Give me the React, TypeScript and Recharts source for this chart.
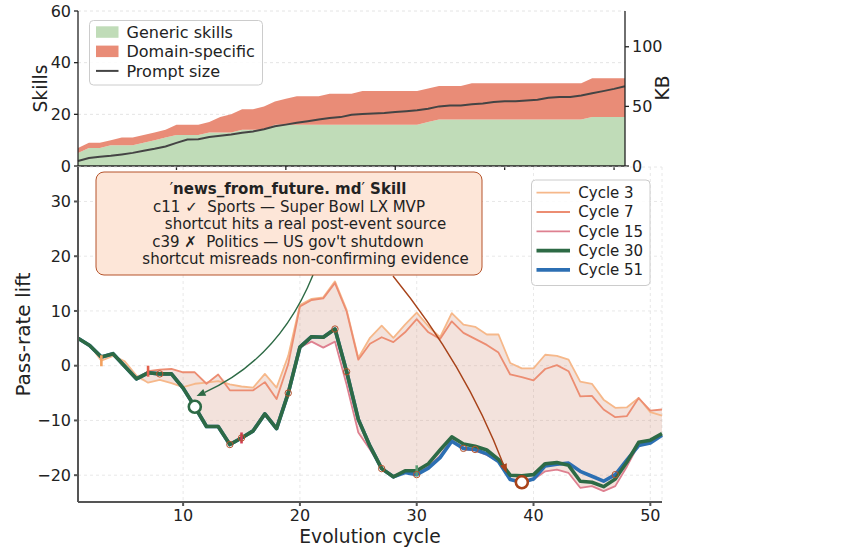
import React from "react";
import {
  ComposedChart,
  Area,
  Line,
  XAxis,
  YAxis,
  CartesianGrid,
  ReferenceDot,
  ReferenceLine,
} from "recharts";

const FONT = "'DejaVu Sans', Verdana, sans-serif";
const INK = "#222222";

// evolution cycles (x axis of both panels)
const cycles = [
  1, 2, 3, 4, 5, 6, 7, 8, 9, 10, 11, 12, 13, 14, 15, 16, 17, 18, 19, 20, 21, 22, 23, 24, 25, 26,
  27, 28, 29, 30, 31, 32, 33, 34, 35, 36, 37, 38, 39, 40, 41, 42, 43, 44, 45, 46, 47, 48, 49, 50, 51,
];

// skill library size and prompt size per cycle
const genericSkills = [
  5, 7, 7, 8, 8, 8, 9, 10, 11, 12, 12, 12, 13, 13, 13, 14, 14, 14, 16, 16, 16, 16, 16, 16, 16, 16,
  16, 16, 16, 16, 16, 16, 17, 18, 18, 18, 18, 18, 18, 18, 18, 18, 18, 18, 18, 18, 18, 19, 19, 19, 19,
];
const domainSkills = [
  2, 2, 2, 2, 3, 3, 3, 3, 3, 4, 4, 4, 4, 6, 7, 8, 8, 9, 9, 10, 11, 11, 11, 12, 12, 12, 13, 13, 13,
  13, 13, 13, 13, 13, 13, 13, 14, 14, 14, 14, 14, 14, 14, 14, 14, 14, 14, 15, 15, 15, 15,
];
const promptKb = [
  4.2, 6.7, 7.8, 8.6, 9.7, 11.0, 12.8, 14.4, 16.4, 19.4, 22.2, 22.5, 24.4, 25.3, 26.4, 27.8, 29.0,
  30.8, 33.3, 34.7, 36.2, 37.6, 39.0, 40.2, 41.0, 43.0, 43.6, 44.0, 44.4, 45.3, 46.0, 46.7, 48.0,
  50.0, 50.8, 50.8, 51.7, 52.5, 53.6, 54.4, 54.4, 55.0, 55.6, 57.2, 57.8, 57.8, 59.2, 61.0, 62.8,
  64.7, 66.9,
];

// pass-rate lift of each snapshot's skill set across cycles
const cycle3 = [
  5.0, 3.7, 0.9, 1.8, 0.8, -1.8, -3.1, -2.6, -3.2, -3.9, -3.3, -3.1, -2.8, -3.4, -3.8, -4.0, -1.5,
  -4.0, 1.8, 11.1, 12.2, 12.5, 15.4, 10.2, 1.4, 5.1, 7.3, 5.1, 7.5, 9.7, 7.2, 5.2, 9.6, 7.5, 7.1,
  5.7, 5.7, 0.5, -0.5, -0.5, 2.0, 1.8, 1.1, -2.9, -3.3, -6.2, -7.7, -7.6, -5.9, -8.5, -9.1,
];
const cycle7 = [
  5.0, 3.7, 1.6, 2.2, -0.1, -2.4, -1.0, -0.7, -0.6, -1.2, -1.2, -3.3, -1.6, -4.5, -4.5, -4.5, -3.0,
  -6.1, 0.3, 10.8, 12.0, 12.3, 15.1, 9.9, 1.1, 4.0, 5.2, 4.3, 6.1, 8.5, 6.1, 4.9, 8.1, 6.0, 4.9,
  3.8, 2.4, -1.6, -2.1, -2.7, -0.6, 0.1, -1.0, -5.6, -5.5, -8.0, -9.4, -9.2, -5.9, -8.2, -8.0,
];
const cycle15 = [
  5.0, 3.7, 1.6, 2.2, -0.1, -2.4, -1.3, -1.5, -1.5, -4.1, -7.5, -11.1, -11.1, -14.4, -13.2, -11.9,
  -8.8, -11.5, -5.0, 3.4, 4.4, 3.3, 4.4, -3.5, -12.2, -15.3, -18.7, -20.2, -19.3, -19.7, -18.4,
  -16.5, -13.5, -15.3, -15.5, -16.3, -17.5, -20.8, -21.3, -20.8, -19.3, -19.0, -19.6, -22.3, -22.0,
  -22.9, -22.0, -18.4, -14.4, -13.8, -12.6,
];
const cycle30 = [
  5.0, 3.7, 1.6, 2.2, -0.1, -2.4, -1.3, -1.5, -1.5, -4.1, -7.5, -11.1, -11.1, -14.4, -13.2, -11.9,
  -8.8, -11.5, -5.0, 3.4, 5.3, 5.2, 6.7, -1.1, -9.8, -14.7, -18.8, -20.3, -19.2, -19.2, -17.9,
  -15.4, -13.0, -14.3, -14.7, -15.4, -17.1, -20.0, -20.1, -19.9, -17.9, -17.7, -18.2, -21.1, -21.3,
  -22.1, -20.7, -17.6, -14.0, -13.6, -12.4,
];
const cycle51 = [
  5.0, 3.7, 1.6, 2.2, -0.1, -2.4, -1.3, -1.5, -1.5, -4.1, -7.5, -11.1, -11.1, -14.4, -13.2, -11.9,
  -8.8, -11.5, -5.0, 3.4, 5.3, 5.2, 6.7, -1.1, -9.8, -14.7, -18.8, -20.3, -19.5, -19.9, -18.7,
  -16.8, -13.8, -15.1, -15.3, -16.1, -17.5, -20.8, -21.3, -20.7, -18.3, -18.0, -17.8, -19.3, -20.2,
  -21.1, -19.9, -17.2, -14.6, -14.1, -12.7,
];

// cycles where the final library gained a skill (small rings on the cycle-51 curve)
const skillAddedCycles = [8, 14, 15, 19, 23, 24, 27, 30, 34, 35, 47];
// highlighted examples from the annotation box
const hitCycle = 11;
const missCycle = 39;

const yTicksTop = [0, 20, 40, 60];
const kbTicks = [0, 50, 100];
const xTicks = [10, 20, 30, 40, 50];
const liftTicks = [-20, -10, 0, 10, 20, 30];

const series = [
  { key: "c3", label: "Cycle 3", values: cycle3, color: "#f6b88a", width: 1.8, tick: "#f3a15f", at: 3 },
  { key: "c7", label: "Cycle 7", values: cycle7, color: "#ec8d72", width: 1.8, tick: "#e2604c", at: 7 },
  { key: "c15", label: "Cycle 15", values: cycle15, color: "#de8090", width: 1.8, tick: "#d43c57", at: 15 },
  { key: "c30", label: "Cycle 30", values: cycle30, color: "#2d6a45", width: 3.6, tick: "#5c9c73", at: 30 },
  { key: "c51", label: "Cycle 51", values: cycle51, color: "#2c6fb3", width: 3.6, tick: null, at: 51 },
];

const topData = cycles.map((c, i) => ({
  cycle: c,
  generic: genericSkills[i],
  domain: domainSkills[i],
  kb: promptKb[i],
}));

const liftData = cycles.map((c, i) => {
  const row: Record<string, any> = { cycle: c };
  const vals = series.map((s) => s.values[i]);
  series.forEach((s) => (row[s.key] = s.values[i]));
  row.band = [Math.min(...vals), Math.max(...vals)];
  return row;
});

const minus = (v: number) => (v < 0 ? `\u2212${Math.abs(v)}` : `${v}`);

// curved annotation arrow, bent like matplotlib's arc3 connection
const curvedArrow = (color: string, rad: number) => (props: any) => {
  const { x1, y1, x2, y2 } = props;
  const dx = x2 - x1;
  const dy = y2 - y1;
  const qx = (x1 + x2) / 2 + rad * dy;
  const qy = (y1 + y2) / 2 - rad * dx;
  const tx = x2 - qx;
  const ty = y2 - qy;
  const len = Math.hypot(tx, ty) || 1;
  const ux = tx / len;
  const uy = ty / len;
  const head = 9;
  const half = 3.6;
  const bx = x2 - ux * head;
  const by = y2 - uy * head;
  return (
    <g>
      <path d={`M${x1},${y1} Q${qx},${qy} ${bx},${by}`} fill="none" stroke={color} strokeWidth={1.4} />
      <polygon
        points={`${x2},${y2} ${bx - uy * half},${by + ux * half} ${bx + uy * half},${by - ux * half}`}
        fill={color}
      />
    </g>
  );
};

const tickMark = (color: string) => (props: any) => (
  <line x1={props.cx} x2={props.cx} y1={props.cy - 5.5} y2={props.cy + 5.5} stroke={color} strokeWidth={2.6} />
);

function SkillsPanel() {
  const tick = { fontSize: 16, fill: INK, fontFamily: FONT };
  return (
    <ComposedChart width={863} height={180} data={topData} margin={{ top: 11, right: 0, bottom: 0, left: 0 }}>
      <CartesianGrid vertical={false} stroke="#e4e4e4" strokeDasharray="3 3" />
      <XAxis
        dataKey="cycle"
        type="number"
        domain={[1, 51]}
        ticks={xTicks}
        interval={0}
        tickFormatter={() => ""}
        height={14}
        tickSize={4}
        stroke="#222"
        strokeWidth={1.3}
      />
      <YAxis
        domain={[0, 60]}
        ticks={yTicksTop}
        interval={0}
        width={78}
        tick={tick}
        tickSize={4}
        tickMargin={3}
        stroke="#222"
        strokeWidth={1.3}
      />
      <YAxis
        yAxisId="kb"
        orientation="right"
        domain={[0, 130]}
        ticks={kbTicks}
        interval={0}
        width={238}
        tick={tick}
        tickSize={4}
        tickMargin={3}
        stroke="#222"
        strokeWidth={1.3}
      />
      <Area
        type="linear"
        dataKey="generic"
        stackId="skills"
        stroke="none"
        fill="#c0dcb8"
        fillOpacity={1}
        isAnimationActive={false}
        activeDot={false}
      />
      <Area
        type="linear"
        dataKey="domain"
        stackId="skills"
        stroke="none"
        fill="#e98c77"
        fillOpacity={1}
        isAnimationActive={false}
        activeDot={false}
      />
      <Line
        type="linear"
        yAxisId="kb"
        dataKey="kb"
        stroke="#444"
        strokeWidth={2}
        dot={false}
        activeDot={false}
        isAnimationActive={false}
      />
    </ComposedChart>
  );
}

function LiftPanel() {
  const tick = { fontSize: 16, fill: INK, fontFamily: FONT };
  const drawOrder = ["c3", "c7", "c15", "c51", "c30"];
  return (
    <ComposedChart width={863} height={394} data={liftData} margin={{ top: 7, right: 201, bottom: 0, left: 0 }}>
      <CartesianGrid stroke="#e2e2e2" strokeDasharray="3 3" strokeWidth={0.8} />
      <XAxis
        dataKey="cycle"
        type="number"
        domain={[1, 51]}
        ticks={xTicks}
        interval={0}
        height={52}
        tick={tick}
        tickSize={4}
        tickMargin={4}
        stroke="#555"
        strokeWidth={2}
      />
      <YAxis
        domain={[-24.9, 36.3]}
        ticks={liftTicks}
        interval={0}
        width={78}
        tick={tick}
        tickSize={4}
        tickMargin={3}
        tickFormatter={minus}
        stroke="#555"
        strokeWidth={2}
        allowDataOverflow
      />
      <Area
        type="linear"
        dataKey="band"
        stroke="none"
        fill="#c97b5e"
        fillOpacity={0.22}
        isAnimationActive={false}
        activeDot={false}
      />
      {drawOrder.map((k) => {
        const s = series.find((x) => x.key === k)!;
        return (
          <Line
            key={k}
            type="linear"
            dataKey={k}
            stroke={s.color}
            strokeWidth={s.width}
            strokeLinejoin="round"
            dot={false}
            activeDot={false}
            isAnimationActive={false}
          />
        );
      })}
      {series
        .filter((s) => s.tick)
        .map((s) => (
          <ReferenceDot
            key={`mark-${s.key}`}
            x={s.at}
            y={s.values[s.at - 1]}
            r={5}
            shape={tickMark(s.tick as string)}
          />
        ))}
      {skillAddedCycles.map((c) => (
        <ReferenceDot
          key={`ring-${c}`}
          x={c}
          y={cycle51[c - 1]}
          r={3.2}
          fill="none"
          stroke="#b5542f"
          strokeWidth={1}
        />
      ))}
      <ReferenceLine
        segment={[
          { x: 21.12, y: 16.57 },
          { x: 11.15, y: -5.55 },
        ]}
        shape={curvedArrow("#2d6a45", 0.2)}
      />
      <ReferenceLine
        segment={[
          { x: 27.97, y: 16.39 },
          { x: 37.7, y: -19.6 },
        ]}
        shape={curvedArrow("#a8431a", 0.08)}
      />
      <ReferenceDot x={hitCycle} y={cycle30[hitCycle - 1]} r={6} fill="#fff" stroke="#2d6a45" strokeWidth={2.6} />
      <ReferenceDot x={missCycle} y={cycle51[missCycle - 1]} r={6} fill="#fff" stroke="#a8431a" strokeWidth={2.6} />
    </ComposedChart>
  );
}

function Overlay() {
  const rows = [
    { label: "Generic skills", kind: "patch", color: "#c0dcb8" },
    { label: "Domain-specific", kind: "patch", color: "#e98c77" },
    { label: "Prompt size", kind: "line", color: "#444" },
  ];
  return (
    <svg width={863} height={554} style={{ position: "absolute", left: 0, top: 0, pointerEvents: "none" }}>
      {/* axis titles */}
      <text x={40} y={88.5} transform="rotate(-90 40 88.5)" textAnchor="middle" dominantBaseline="central" fontSize={18.7} fontFamily={FONT} fill={INK}>
        Skills
      </text>
      <text x={662} y={88} transform="rotate(-90 662 88)" textAnchor="middle" dominantBaseline="central" fontSize={18.7} fontFamily={FONT} fill={INK}>
        KB
      </text>
      <text x={23} y={334.5} transform="rotate(-90 23 334.5)" textAnchor="middle" dominantBaseline="central" fontSize={20} fontFamily={FONT} fill={INK}>
        Pass-rate lift
      </text>
      <text x={370} y={542.5} textAnchor="middle" fontSize={18.7} fontFamily={FONT} fill={INK}>
        Evolution cycle
      </text>

      {/* skills legend */}
      <rect x={89.5} y={20.5} width={173} height={64.5} rx={4} fill="#fff" fillOpacity={0.85} stroke="#cccccc" />
      {rows.map((r, i) => {
        const cy = 32.3 + i * 19.3;
        return (
          <g key={r.label}>
            {r.kind === "patch" ? (
              <rect x={96} y={cy - 6} width={22.5} height={11.5} fill={r.color} />
            ) : (
              <line x1={96} x2={118.5} y1={cy} y2={cy} stroke={r.color} strokeWidth={2} />
            )}
            <text x={126.5} y={cy + 5.8} fontSize={16} fontFamily={FONT} fill={INK}>
              {r.label}
            </text>
          </g>
        );
      })}

      {/* cycle legend */}
      <rect x={531.5} y={180} width={118.5} height={105.5} rx={4} fill="#fff" fillOpacity={0.85} stroke="#cccccc" />
      {series.map((s, i) => {
        const cy = 192.7 + i * 19.3;
        return (
          <g key={s.key}>
            <line x1={536.5} x2={570} y1={cy} y2={cy} stroke={s.color} strokeWidth={s.width} />
            <text x={578.3} y={cy + 5.4} fontSize={15} fontFamily={FONT} fill={INK}>
              {s.label}
            </text>
          </g>
        );
      })}

      {/* annotation box */}
      <rect x={96} y={172} width={386} height={103} rx={8} fill="#fde6d8" stroke="#b5532a" strokeWidth={1} />
      <g fontFamily={FONT} fontSize={15} fill={INK} textAnchor="middle">
        <text x={288} y={194}>
          <tspan>{"\u2032"}</tspan>
          <tspan fontWeight="bold">news_from_future. md</tspan>
          <tspan>{"\u2032"}</tspan>
          <tspan fontWeight="bold"> Skill</tspan>
        </text>
        <text x={289} y={211.5} style={{ whiteSpace: "pre" }}>
          {"c11 \u2713  Sports \u2014 Super Bowl LX MVP"}
        </text>
        <text x={305.5} y={229}>
          shortcut hits a real post-event source
        </text>
        <text x={288} y={246.5} style={{ whiteSpace: "pre" }}>
          {"c39 \u2717  Politics \u2014 US gov't shutdown"}
        </text>
        <text x={305.5} y={264}>
          shortcut misreads non-confirming evidence
        </text>
      </g>
    </svg>
  );
}

export default function App() {
  return (
    <div
      style={{
        position: "absolute",
        left: 0,
        top: 0,
        width: 863,
        height: 554,
        background: "#fff",
        fontFamily: FONT,
      }}
    >
      <div style={{ position: "absolute", left: 0, top: 0 }}>
        <SkillsPanel />
      </div>
      <div style={{ position: "absolute", left: 0, top: 160 }}>
        <LiftPanel />
      </div>
      <Overlay />
    </div>
  );
}
